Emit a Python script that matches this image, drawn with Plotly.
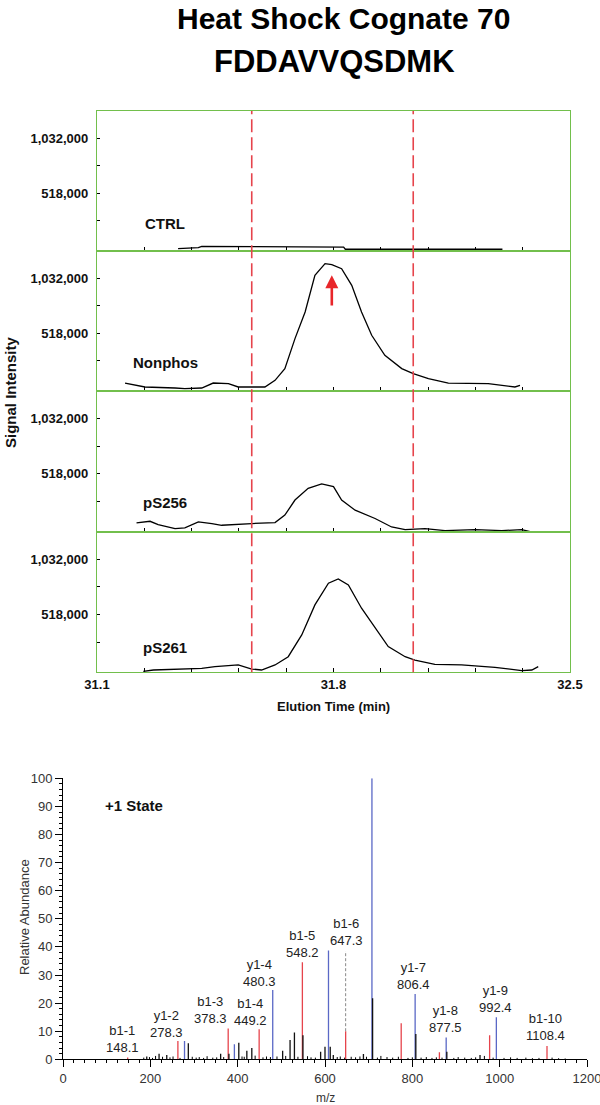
import plotly.graph_objects as go

# ---------------- Chromatogram data (elution time in min, signal intensity) ----------------
ctrl_t = [31.34, 31.37, 31.40, 31.41, 31.72, 31.73, 31.83, 31.835, 32.30]
ctrl_v = [0, 5000, 10000, 22000, 22000, 15000, 15000, -5000, -5000]

nonphos_t = [31.183, 31.242, 31.331, 31.36, 31.41, 31.444, 31.489, 31.518, 31.597, 31.627,
             31.656, 31.686, 31.716, 31.745, 31.775, 31.795, 31.824, 31.854, 31.883, 31.913,
             31.952, 32.002, 32.036, 32.081, 32.14, 32.258, 32.337, 32.352]
nonphos_v = [53000, 16000, 6500, 0, 6500, 53000, 47000, 16000, 16000, 78000,
             188000, 468000, 717000, 1060000, 1169000, 1160000, 1122000, 966000, 717000, 499000,
             312000, 188000, 141000, 94000, 53000, 47000, 16000, 32000]

ps256_t = [31.217, 31.257, 31.281, 31.331, 31.36, 31.40, 31.44, 31.469, 31.558, 31.627,
           31.656, 31.686, 31.725, 31.765, 31.80, 31.824, 31.864, 31.923, 31.972, 32.012,
           32.071, 32.13, 32.219, 32.298, 32.357, 32.382]
ps256_v = [62600, 78000, 47000, 10000, 16000, 72000, 57000, 41000, 57000, 66000,
           135000, 275000, 384000, 424000, 399000, 275000, 181000, 104000, 25000, 0,
           10000, -8000, 0, -8000, 0, -18000]

ps261_t = [31.237, 31.267, 31.41, 31.449, 31.518, 31.558, 31.587, 31.627, 31.666, 31.706,
           31.745, 31.785, 31.814, 31.844, 31.883, 31.923, 31.962, 32.012, 32.041, 32.10,
           32.179, 32.278, 32.357, 32.387, 32.406]
ps261_v = [-12000, 0, 16000, 31000, 47000, 9000, 0, 47000, 124000, 327000,
           607000, 810000, 850000, 794000, 576000, 390000, 218000, 124000, 93000, 53000,
           47000, 25000, -6000, 0, 31000]

panel_names = ["CTRL", "Nonphos", "pS256", "pS261"]
time_ticks = [31.10, 31.24, 31.38, 31.52, 31.66, 31.80, 31.94, 32.08, 32.22, 32.36, 32.50]
time_labels = ["31.1", "", "", "", "", "31.8", "", "", "", "", "32.5"]
intensity_ticks = [261000, 518000, 775000, 1032000]
intensity_labels = ["", "518,000", "", "1,032,000"]
window_bounds = [31.558, 32.036]
arrow_time = 31.795
arrow_from, arrow_to = 763000, 1060000

# ---------------- MS/MS spectrum data (m/z, relative abundance) ----------------
b_mz = [148.1, 263.1, 378.3, 449.2, 548.2, 647.3, 774.5, 862.0, 977.0, 1108.4]
b_int = [0.6, 6.5, 11.0, 10.7, 34.5, 10.0, 12.8, 2.5, 8.6, 4.7]

y_mz = [278.3, 392.5, 480.3, 608.0, 707.5, 806.4, 877.5, 992.4]
y_int = [6.5, 5.4, 24.7, 38.7, 100.0, 23.2, 7.8, 15.0]

other_mz = [191.8, 220.0, 237.6, 287.0, 361.0, 380.0, 402.6, 421.0, 432.4, 503.0,
            520.0, 530.0, 549.5, 590.0, 600.0, 612.0, 619.0, 688.0, 709.0, 808.0,
            879.0, 955.0]
other_int = [1.0, 2.0, 1.5, 5.7, 2.0, 2.0, 5.9, 3.0, 4.0, 3.0,
             6.9, 9.5, 8.6, 2.7, 4.5, 4.5, 1.5, 1.9, 21.7, 9.0,
             2.7, 1.5]

noise_mz = [185, 198, 205, 212, 228, 245, 252, 268, 296, 305, 312, 322, 330, 343, 352,
            368, 410, 415, 440, 458, 466, 475, 490, 510, 538, 560, 568, 578, 628, 635,
            645, 660, 670, 680, 695, 720, 728, 742, 755, 768, 790, 800, 820, 832, 845,
            855, 868, 895, 905, 920, 935, 945, 965, 985, 1010, 1025, 1040, 1060, 1075,
            1090, 1120, 1135, 1150]
noise_int = [0.6, 0.8, 0.5, 1.2, 0.9, 0.7, 1.0, 0.5, 0.9, 0.6, 0.8, 0.5, 1.1, 0.6, 0.7,
             0.8, 1.0, 0.9, 1.3, 0.7, 1.0, 0.8, 1.0, 1.2, 0.9, 1.1, 0.7, 0.6, 0.8, 1.0,
             0.6, 0.9, 0.7, 1.0, 0.9, 0.6, 1.2, 0.8, 0.6, 0.9, 0.5, 0.7, 0.6, 0.8, 0.5,
             0.7, 0.6, 0.5, 0.8, 0.6, 0.5, 0.7, 1.2, 0.6, 0.5, 0.7, 0.5, 0.6, 0.4,
             0.5, 0.6, 0.4, 0.3]

ion_labels = ["b1-1<br>148.1", "y1-2<br>278.3", "b1-3<br>378.3", "b1-4<br>449.2",
              "y1-4<br>480.3", "b1-5<br>548.2", "b1-6<br>647.3", "y1-6<br>707.5",
              "y1-7<br>806.4", "y1-8<br>877.5", "y1-9<br>992.4", "b1-10<br>1108.4"]
# label anchor positions (layout, in data units)
ion_label_pos = [(136, 7.2), (236, 12.7), (337, 17.4), (429, 16.7), (451, 30.7),
                 (548, 41.1), (649, 45.3), (698, 107.0), (803, 29.5), (875, 14.2),
                 (990, 21.6), (1105, 11.4)]

# ---------------- style ----------------
FONT = "Arial, Liberation Sans, sans-serif"
GREEN = "#72bf4c"
RED = "#e6444c"
BLUE = "#5a68c6"
W, H = 600, 1105


def px(x):
    return x / W


def py(y):
    return 1 - y / H


def label(x, y, text, size, color="#111", bold=True, angle=0):
    fig.add_annotation(x=px(x), y=py(y), xref="paper", yref="paper", text=text,
                       xanchor="center", yanchor="middle", showarrow=False, textangle=angle,
                       font=dict(family=FONT, size=size, color=color,
                                 weight="bold" if bold else "normal"))


chrom_x_dom = [px(97), px(570)]
panel_bounds = [(111, 251), (251, 391), (391, 532), (532, 672.3)]
label_y = [224, 363, 503, 647]

fig = go.Figure()

series = [(ctrl_t, ctrl_v), (nonphos_t, nonphos_v), (ps256_t, ps256_v), (ps261_t, ps261_v)]
for i, (t, v) in enumerate(series):
    sfx = "" if i == 0 else str(i + 1)
    fig.add_trace(go.Scatter(x=t, y=v, mode="lines", line=dict(color="black", width=1.3),
                             xaxis="x" + sfx, yaxis="y" + sfx, hoverinfo="skip"))
    top, bot = panel_bounds[i]
    fig.layout["xaxis" + sfx] = dict(
        domain=chrom_x_dom, anchor="y" + sfx, range=[31.1, 32.5], automargin=False,
        tickmode="array", tickvals=time_ticks, ticktext=time_labels,
        showticklabels=(i == 3), ticks="inside", ticklen=4, tickwidth=1, tickcolor="black",
        showline=True, linecolor=GREEN, linewidth=1.3, mirror=True,
        showgrid=False, zeroline=False, ticklabeloverflow="allow",
        tickfont=dict(family=FONT, size=13, color="#111", weight="bold"),
    )
    fig.layout["yaxis" + sfx] = dict(
        domain=[py(bot), py(top)], anchor="x" + sfx, range=[-21500, 1287000], automargin=False,
        tickmode="array", tickvals=intensity_ticks, ticktext=intensity_labels,
        ticks="inside", ticklen=3, tickwidth=1, tickcolor="black",
        showline=True, linecolor=GREEN, linewidth=1.3, mirror=True,
        showgrid=False, zeroline=False, ticklabelstandoff=5,
        tickfont=dict(family=FONT, size=13, color="#111", weight="bold"),
    )
    label(165, label_y[i], panel_names[i], 15)

label(333, 707, "Elution Time (min)", 13)

# dashed boundary lines across all four panels
for tb in window_bounds:
    fig.add_shape(type="line", xref="x", yref="paper", x0=tb, x1=tb,
                  y0=py(672.3), y1=py(111), line=dict(color=RED, width=1.6, dash="13px,5px"))

# arrow at the Nonphos apex
fig.add_annotation(x=arrow_time, y=arrow_to, ax=arrow_time, ay=arrow_from,
                   xref="x2", yref="y2", axref="x2", ayref="y2", text="",
                   showarrow=True, arrowhead=2, arrowsize=1, arrowwidth=2.6, arrowcolor="#e8262a")

# ---------------- spectrum ----------------
def stems(mz, inten):
    xs, ys = [], []
    for m, h in zip(mz, inten):
        xs += [m, m, None]
        ys += [0, h, None]
    return xs, ys


for mz, inten, col, wdt in [(noise_mz, noise_int, "black", 1.0),
                            (b_mz, b_int, RED, 1.3),
                            (y_mz, y_int, BLUE, 1.3),
                            (other_mz, other_int, "#111", 1.3)]:
    xs, ys = stems(mz, inten)
    fig.add_trace(go.Scatter(x=xs, y=ys, mode="lines", line=dict(color=col, width=wdt),
                             xaxis="x5", yaxis="y5", hoverinfo="skip", cliponaxis=False))

fig.layout.xaxis5 = dict(
    domain=[px(63), px(587)], anchor="y5", range=[0, 1200], automargin=False,
    tickmode="linear", tick0=0, dtick=200, ticks="outside", ticklen=7, tickcolor="black",
    minor=dict(dtick=25, ticks="outside", ticklen=3, tickcolor="black"),
    showline=True, linecolor="black", linewidth=1, showgrid=False, zeroline=False,
    ticklabeloverflow="allow",
    tickfont=dict(family=FONT, size=13, color="#333"),
)
fig.layout.yaxis5 = dict(
    domain=[py(1059.3), py(778.3)], anchor="x5", range=[0, 100], automargin=False,
    tickmode="linear", tick0=0, dtick=10, ticks="outside", ticklen=7, tickcolor="black",
    minor=dict(dtick=2, ticks="outside", ticklen=3, tickcolor="black"),
    showline=True, linecolor="black", linewidth=1, showgrid=False, zeroline=False,
    tickfont=dict(family=FONT, size=13, color="#333"),
)
label(325, 1098, "m/z", 12, color="#333", bold=False)
label(24, 917, "Relative Abundance", 13, color="#333", bold=False, angle=-90)

for txt, (lx, ly) in zip(ion_labels, ion_label_pos):
    fig.add_annotation(x=lx, y=ly, xref="x5", yref="y5", text=txt, showarrow=False,
                       xanchor="center", yanchor="middle",
                       font=dict(family=FONT, size=13, color="#222"), align="center")

# dashed leader for b1-6
b6 = b_mz.index(647.3)
fig.add_shape(type="line", xref="x5", yref="y5", x0=b_mz[b6], x1=b_mz[b6],
              y0=b_int[b6], y1=38.5, line=dict(color="#888", width=1, dash="3px,2px"))

label(134, 805, "+1 State", 15)

# ---------------- titles ----------------
label(343, 18, "Heat Shock Cognate 70", 30, color="black")
label(334, 61, "FDDAVVQSDMK", 31, color="black")
label(10, 392, "Signal Intensity", 15, angle=-90)

fig.update_layout(width=W, height=H, margin=dict(l=0, r=0, t=0, b=0),
                  paper_bgcolor="white", plot_bgcolor="white", showlegend=False)

fig.write_html("out.html", config={"displayModeBar": False},
               post_script="document.body.style.margin='0px';document.body.style.padding='0px';")
